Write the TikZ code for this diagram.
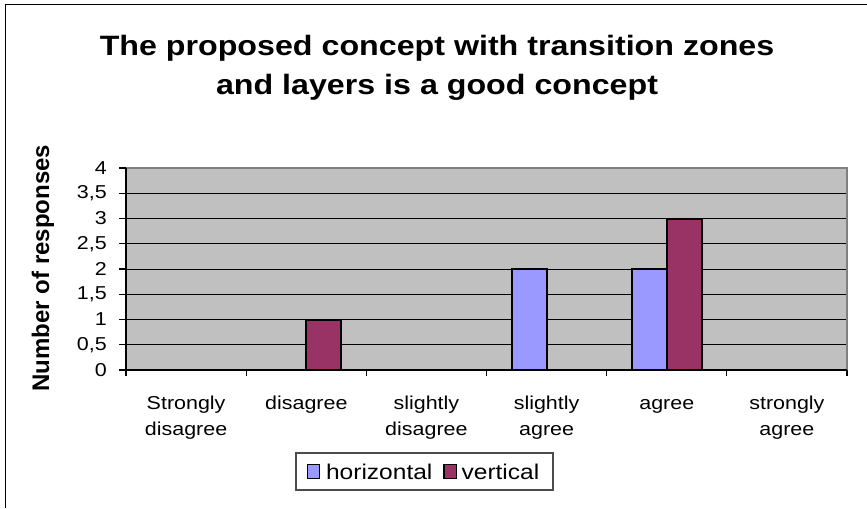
\documentclass[tikz,border=0pt]{standalone}
\usepackage{fontspec}
\setmainfont{Liberation Sans}
\usepackage{tikz}
\usepackage{xcolor}
\usetikzlibrary{
    calc,
    positioning
}
\definecolor{plotgray}{HTML}{C0C0C0}
\definecolor{bordergray}{HTML}{808080}
\definecolor{horizblue}{HTML}{9999FF}
\definecolor{vertpurple}{HTML}{993366}
\tikzset{
    titletext/.style={font=\fontsize{21}{25}\selectfont\bfseries, xscale=1.15, inner sep=0pt},
    axistitle/.style={font=\fontsize{18}{21}\selectfont\bfseries, inner sep=0pt},
    ticklabel/.style={font=\fontsize{14}{17}\selectfont, xscale=1.15, inner sep=0pt},
    catlabel/.style={font=\fontsize{14}{19.5}\selectfont, xscale=1.15, align=center, inner sep=0pt},
    legendtext/.style={font=\fontsize{16}{19}\selectfont, xscale=1.15, inner sep=0pt},
    legendbox/.style={draw=black, line width=0.9pt, minimum width=9.5pt, minimum height=11pt, inner sep=0pt},
    bar/.style={draw=black, line width=1.5pt}
}

\begin{document}
\begin{tikzpicture}[x=0.75pt, y=-0.75pt]
                        \useasboundingbox (0,0) rectangle (867,508);
                        \draw[line width=1.2pt] (867,4.5) -| (5.5,508);

                        \fill[plotgray] (126,168) rectangle (847,370);
                        \draw[line width=0.75pt]
                        (126,344.75) -- (847,344.75)
                        (126,319.5) -- (847,319.5)
                        (126,294.25) -- (847,294.25)
                        (126,269) -- (847,269)
                        (126,243.75) -- (847,243.75)
                        (126,218.5) -- (847,218.5)
                        (126,193.25) -- (847,193.25);
                        \draw[bordergray, line width=1.5pt] (126,168) -- (847,168) -- (847,370);

                        \draw[bar, fill=vertpurple] (306.3,319.5) rectangle (341.3,370);
                        \draw[bar, fill=horizblue] (511.6,269) rectangle (546.6,370);
                        \draw[bar, fill=horizblue] (631.8,269) rectangle (666.8,370);
                        \draw[bar, fill=vertpurple] (666.8,218.5) rectangle (701.8,370);

                        \draw[line width=1pt]
                        (126,168) -- (126,370)
                        (126,370) -- (847,370)
                        (119,370) -- (126,370)
                        (119,344.75) -- (126,344.75)
                        (119,319.5) -- (126,319.5)
                        (119,294.25) -- (126,294.25)
                        (119,269) -- (126,269)
                        (119,243.75) -- (126,243.75)
                        (119,218.5) -- (126,218.5)
                        (119,193.25) -- (126,193.25)
                        (119,168) -- (126,168)
                        (126,370) -- (126,376)
                        (246.2,370) -- (246.2,376)
                        (366.3,370) -- (366.3,376)
                        (486.5,370) -- (486.5,376)
                        (606.7,370) -- (606.7,376)
                        (726.8,370) -- (726.8,376)
                        (847,370) -- (847,376);

                        \node[titletext, anchor=base] (title1) at (437,55.5) {The proposed concept with transition zones};
                        \node[titletext, anchor=base] (title2) at (437,94.5) {and layers is a good concept};
                        \node[axistitle, rotate=90] (ytitle) at (43,268) {Number of responses};

                        \node[ticklabel, anchor=east] (t0) at (107,370) {0};
                        \node[ticklabel, anchor=east] (t05) at (107,344.75) {0,5};
                        \node[ticklabel, anchor=east] (t1) at (107,319.5) {1};
                        \node[ticklabel, anchor=east] (t15) at (107,294.25) {1,5};
                        \node[ticklabel, anchor=east] (t2) at (107,269) {2};
                        \node[ticklabel, anchor=east] (t25) at (107,243.75) {2,5};
                        \node[ticklabel, anchor=east] (t3) at (107,218.5) {3};
                        \node[ticklabel, anchor=east] (t35) at (107,193.25) {3,5};
                        \node[ticklabel, anchor=east] (t4) at (107,168) {4};

                        \node[catlabel, anchor=base] (c1) at (186.1,435) {Strongly\\disagree};
                        \node[catlabel, anchor=base] (c2) at (306.3,409) {disagree};
                        \node[catlabel, anchor=base] (c3) at (426.4,435) {slightly\\disagree};
                        \node[catlabel, anchor=base] (c4) at (546.6,435) {slightly\\agree};
                        \node[catlabel, anchor=base] (c5) at (666.8,409) {agree};
                        \node[catlabel, anchor=base] (c6) at (786.9,435) {strongly\\agree};

                        \draw[line width=0.9pt, draw=black!70] (296,453) rectangle (553,490);
                        \node[legendbox, fill=horizblue] (hsq) at (313.5,471.5) {};
                        \node[legendtext, right=4pt of hsq] (htext) {horizontal};
                        \node[legendbox, fill=vertpurple, right=8pt of htext] (vsq) {};
                        \node[legendtext, right=3pt of vsq] (vtext) {vertical};
\end{tikzpicture}
\end{document}
